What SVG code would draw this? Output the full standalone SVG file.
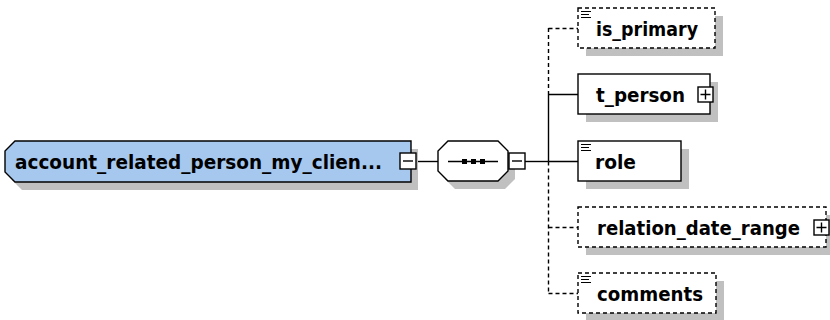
<svg xmlns="http://www.w3.org/2000/svg" width="830" height="320" viewBox="0 0 830 320">
<style>
.shadow{fill:#c0c0c0;stroke:none}
.box{fill:#fff;stroke:#000;stroke-width:1.4}
.opt{stroke-dasharray:4,3}
.main{fill:#a6c8ef;stroke:#000;stroke-width:1.4}
.lbl{font-family:"DejaVu Sans",Verdana,sans-serif;font-weight:bold;font-size:19.5px;fill:#000}
.ln{stroke:#000;stroke-width:1.4;fill:none}
.dash{stroke-dasharray:4,3}
.icon{stroke:#000;stroke-width:1.2;fill:none}
</style>
<defs>
<g id="minus"><rect x="0" y="0" width="16" height="16" class="box"/><path d="M3,8H13" class="ln"/></g>
<g id="plus"><rect x="0" y="0" width="15" height="15" class="box"/><path d="M2.5,7.5H12.5M7.5,2.5V12.5" class="ln"/></g>
<g id="doc"><path d="M0,0.5H10M0,3.5H8M0,6.5H10" class="icon"/></g>
</defs>

<g id="connectors">
<path d="M416,161.5H438" class="ln"/>
<path d="M525,161.5H548.5" class="ln"/>
<path d="M548.5,94V161.5" class="ln"/>
<path d="M548.5,28V94M548.5,161.5V293" class="ln dash"/>
<path d="M548.5,94.5H578M548.5,161.5H578" class="ln"/>
<path d="M548.5,28.5H578M548.5,227.5H578M548.5,293.5H578" class="ln dash"/>
</g>

<g id="account_related_person_my_client">
<path d="M22,149H418V190H22L12,180V159Z" class="shadow"/>
<path d="M15,141H411V182H15L5,172V151Z" class="main"/>
<text x="15" y="169" class="lbl" textLength="367" lengthAdjust="spacingAndGlyphs">account_related_person_my_clien...</text>
<use href="#minus" x="400" y="153"/>
</g>

<g id="sequence">
<path d="M455,149H505L515,159V179L505,189H455L445,179V159Z" class="shadow"/>
<path d="M448,141H498L508,151V171L498,181H448L438,171V151Z" class="box"/>
<path d="M448,161.5H498" class="ln"/>
<rect x="462" y="159" width="5" height="5" fill="#000"/>
<rect x="471" y="159" width="5" height="5" fill="#000"/>
<rect x="480" y="159" width="5" height="5" fill="#000"/>
<use href="#minus" x="509" y="153"/>
</g>

<g id="is_primary">
<rect x="586" y="16" width="137" height="40" class="shadow"/>
<rect x="578" y="8" width="137" height="40" class="box opt"/>
<use href="#doc" x="581" y="11"/>
<text x="596" y="36" class="lbl" textLength="102" lengthAdjust="spacingAndGlyphs">is_primary</text>
</g>

<g id="t_person">
<rect x="586" y="82" width="132" height="40" class="shadow"/>
<rect x="578" y="74" width="132" height="40" class="box"/>
<text x="596" y="102" class="lbl" textLength="89" lengthAdjust="spacingAndGlyphs">t_person</text>
<use href="#plus" x="698" y="87"/>
</g>

<g id="role">
<rect x="586" y="149" width="103" height="40" class="shadow"/>
<rect x="578" y="141" width="103" height="40" class="box"/>
<use href="#doc" x="581" y="144"/>
<text x="595" y="169" class="lbl" textLength="41" lengthAdjust="spacingAndGlyphs">role</text>
</g>

<g id="relation_date_range">
<rect x="586" y="215" width="248" height="40" class="shadow"/>
<rect x="578" y="207" width="248" height="40" class="box opt"/>
<text x="597" y="235" class="lbl" textLength="203" lengthAdjust="spacingAndGlyphs">relation_date_range</text>
<use href="#plus" x="814" y="220"/>
</g>

<g id="comments">
<rect x="586" y="281" width="138" height="40" class="shadow"/>
<rect x="578" y="273" width="138" height="40" class="box opt"/>
<use href="#doc" x="581" y="276"/>
<text x="597" y="301" class="lbl" textLength="106" lengthAdjust="spacingAndGlyphs">comments</text>
</g>
</svg>
